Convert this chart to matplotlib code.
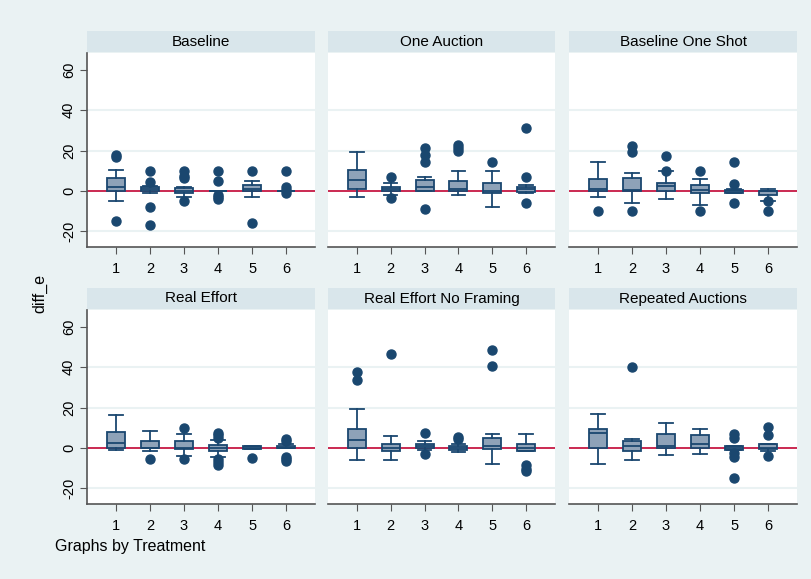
import numpy as np
import matplotlib
matplotlib.use("Agg")
import matplotlib.pyplot as plt

plt.rcParams['font.family'] = ['Liberation Sans', 'DejaVu Sans']

treatments = ["Baseline", "One Auction", "Baseline One Shot",
              "Real Effort", "Real Effort No Framing", "Repeated Auctions"]
periods = [1, 2, 3, 4, 5, 6]

# box stats per treatment, one value per period
whis_lo = [[-5, -1.2, -3, 0, -3, 0],
           [-3.2, -2.2, 0, -2.2, -8.2, -1],
           [-3.2, -6.3, -4.2, -7.2, -1.2, -5],
           [-1, -1.8, -4.2, -4.7, -0.5, -0.3],
           [-6, -6, -1.2, -2, -8.3, -1.7],
           [-8.3, -6, -3.7, -3, -1, -1.7]]
q1 = [[0, 0, -1.2, 0, 0, 0],
      [0.8, 0, 0, 0, -1.2, -0.7],
      [0, 0, 0, -1.2, -1.2, -2],
      [0, 0, -0.5, -1.5, -0.5, -0.3],
      [0, -1.7, 0, -1, -0.5, -1.7],
      [0, -1.8, 0, 0, -1, -0.5]]
med = [[1.8, 0.8, 0, 0, 1, 0],
       [5.5, 0.8, 1.7, 0.8, 0, 0.8],
       [0.8, 0.5, 2.2, 0.2, 0, 0],
       [2.5, 0, 0, 0, 0, 0],
       [4, 0, 1, 0, 1, 0],
       [7.5, 1, 0.8, 1.8, 0, 0]]
q3 = [[6.2, 1.7, 1.2, 0, 3, 0],
      [10.2, 1.8, 5.3, 5, 3.8, 2],
      [6, 6.5, 3.8, 3, 0.5, 0],
      [8, 3.5, 3.2, 1.2, 0.8, 1],
      [9.3, 2, 2, 0.8, 5, 2],
      [9.2, 3.2, 7, 6.2, 0.7, 2]]
whis_hi = [[10.2, 2.5, 2, 0, 5, 0],
           [19.2, 3.8, 7, 10, 10, 2.8],
           [14.2, 8.8, 10, 5.7, 1, 1],
           [16.3, 8.2, 7, 4, 0.8, 1.8],
           [19.2, 6, 3.2, 2, 7, 7],
           [17, 4.2, 12.2, 9.2, 1, 2]]
outliers = [[[17, 18, -15], [10, 4.5, -8, -17], [10, 7.5, 6.3, -5], [10, 5, -2, -3, -4], [10, -16], [10, 2, 0.5, -1]],
            [[], [7, -3.8], [21, 18, 14.3, -9], [22.7, 21, 20], [14.3], [31.3, 7, -6.3]],
            [[-10], [22.3, 19.2, -10], [17.2, 10], [10, -10], [14.3, 3.2, -6.3], [-5, -10]],
            [[], [-5.8], [10, -5.8], [7.5, 6.2, 5, -5.8, -7.2, -8.5], [-5.2], [4.5, 3.3, -4.7, -5.8, -6.7]],
            [[37.8, 33.5], [46.5], [7.2, -3], [5.5, 4.2], [48.5, 40.5], [-8.8, -10.5, -11.7]],
            [[], [40], [], [], [6.8, 5, -2.5, -4.7, -15], [10.3, 6.2, -4.2]]]

W, H = 811, 579
bg = "#EAF2F3"
strip_col = "#D9E6EB"
navy = "#1A476F"
fill = "#8EA2B8"

fig = plt.figure(figsize=(W / 100, H / 100), dpi=100, facecolor=bg)

cols = [(87, 315), (328, 555), (569, 797)]
rows = [(31, 53, 247), (288, 310, 504)]


def px_axes(x0, x1, y0, y1):
    return fig.add_axes([x0 / W, 1 - y1 / H, (x1 - x0) / W, (y1 - y0) / H])


for i, name in enumerate(treatments):
    r, c = divmod(i, 3)
    x0, x1 = cols[c]
    st, top, bot = rows[r]

    sax = px_axes(x0, x1, st, top - 1)
    sax.set_facecolor(strip_col)
    sax.set_xticks([])
    sax.set_yticks([])
    for s in sax.spines.values():
        s.set_visible(False)
    sax.text(0.5, 0.5, name, ha='center', va='center', fontsize=11,
             color='black', transform=sax.transAxes)

    ax = px_axes(x0, x1, top, bot)
    ax.set_facecolor('white')
    stats = []
    for k in range(len(periods)):
        stats.append(dict(med=med[i][k], q1=q1[i][k], q3=q3[i][k],
                          whislo=whis_lo[i][k], whishi=whis_hi[i][k],
                          fliers=outliers[i][k]))
    for g in [-20, 20, 40]:
        ax.axhline(g, color="#EAF2F3", lw=1.5, zorder=0)
    ax.axhline(0, color="#C10534", lw=1.2, zorder=1)
    ax.bxp(stats, positions=periods, widths=0.53, patch_artist=True,
           boxprops=dict(facecolor=fill, edgecolor=navy, lw=1.3),
           medianprops=dict(color=navy, lw=1.3),
           whiskerprops=dict(color=navy, lw=1.3),
           capprops=dict(color=navy, lw=1.3),
           capwidths=0.4,
           flierprops=dict(marker='o', markerfacecolor=navy, markeredgecolor=navy,
                           markersize=6.5, linestyle='none'),
           zorder=2)
    ax.set_xlim(0.15, 6.85)
    ax.set_ylim(-28, 68.5)
    ax.set_xticks(periods)
    ax.set_xticklabels([str(p) for p in periods], fontsize=10.5)
    ax.tick_params(axis='x', length=5, color='#555555', pad=6)
    for s in ['top', 'right']:
        ax.spines[s].set_visible(False)
    ax.spines['bottom'].set_color('#555555')
    ax.spines['bottom'].set_linewidth(1.2)
    if c == 0:
        ax.set_yticks([-20, 0, 20, 40, 60])
        ax.set_yticklabels(["-20", "0", "20", "40", "60"], fontsize=10.5,
                           rotation=90, va='center')
        ax.tick_params(axis='y', length=5, color='#555555', pad=3)
        ax.spines['left'].set_color('#555555')
        ax.spines['left'].set_linewidth(1.2)
    else:
        ax.set_yticks([])
        ax.spines['left'].set_visible(False)

fig.text(40 / W, 1 - 293 / H, "diff_e", rotation=90, ha='center', va='center',
         fontsize=11.5)
fig.text(55 / W, 1 - 547 / H, "Graphs by Treatment", ha='left', va='center',
         fontsize=11.5)

fig.savefig("out.png", dpi=100, facecolor=bg)
